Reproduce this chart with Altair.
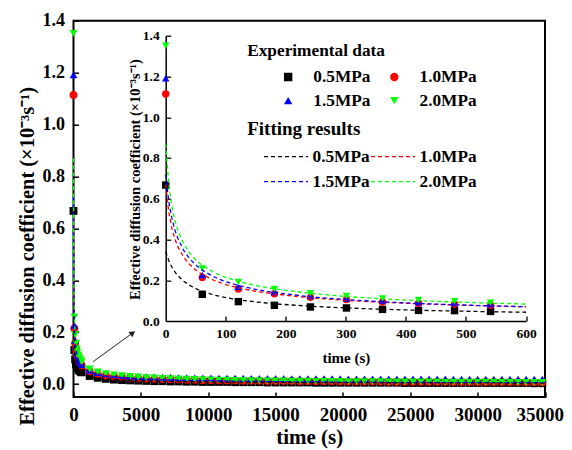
import altair as alt
import pandas as pd

FONT = "Liberation Serif"

series_names = ["0.5MPa", "1.0MPa", "1.5MPa", "2.0MPa"]
fit_names = ["0.5MPa fit", "1.0MPa fit", "1.5MPa fit", "2.0MPa fit"]
colors = ["#000000", "#ff0000", "#0000ff", "#00ff00"]
shapes = ["square", "circle", "triangle-up", "triangle-down"]

# experimental data, first 600 s (inset)
inset_times = [0, 61, 121, 181, 241, 301, 361, 421, 481, 541]
black_early = [0.667, 0.131, 0.095, 0.077, 0.069, 0.064, 0.057, 0.052, 0.051, 0.047]
red_early = [1.114, 0.214, 0.157, 0.134, 0.116, 0.105, 0.093, 0.087, 0.082, 0.077]
blue_early = [1.191, 0.226, 0.168, 0.142, 0.123, 0.110, 0.100, 0.092, 0.087, 0.082]
green_early = [1.351, 0.258, 0.191, 0.157, 0.136, 0.123, 0.111, 0.103, 0.097, 0.090]

# experimental data, long times (every 600 s)
main_times = list(range(601, 35000, 600))
black_late = [0.045, 0.031, 0.024, 0.020, 0.017, 0.015, 0.014, 0.013, 0.012, 0.011,
              0.011, 0.010, 0.010, 0.009, 0.009, 0.008, 0.008, 0.008, 0.008, 0.007,
              0.007, 0.007, 0.007, 0.006, 0.006, 0.006, 0.006, 0.006, 0.006, 0.005,
              0.005, 0.005, 0.005, 0.005, 0.005, 0.005, 0.005, 0.005, 0.005, 0.005,
              0.004, 0.004, 0.004, 0.004, 0.004, 0.004, 0.004, 0.004, 0.004, 0.004,
              0.004, 0.004, 0.004, 0.004, 0.004, 0.004, 0.003, 0.003]
red_late = [0.072, 0.049, 0.039, 0.033, 0.029, 0.026, 0.024, 0.022, 0.021, 0.020,
            0.019, 0.018, 0.017, 0.016, 0.016, 0.015, 0.015, 0.014, 0.014, 0.014,
            0.013, 0.013, 0.013, 0.012, 0.012, 0.012, 0.012, 0.011, 0.011, 0.011,
            0.011, 0.011, 0.010, 0.010, 0.010, 0.010, 0.010, 0.010, 0.009, 0.009,
            0.009, 0.009, 0.009, 0.009, 0.009, 0.009, 0.008, 0.008, 0.008, 0.008,
            0.008, 0.008, 0.008, 0.008, 0.008, 0.007, 0.007, 0.007]
blue_late = [0.075, 0.053, 0.044, 0.039, 0.035, 0.033, 0.031, 0.029, 0.028, 0.027,
             0.026, 0.026, 0.025, 0.025, 0.024, 0.024, 0.024, 0.023, 0.023, 0.023,
             0.023, 0.022, 0.022, 0.022, 0.022, 0.022, 0.021, 0.021, 0.021, 0.021,
             0.021, 0.021, 0.021, 0.020, 0.020, 0.020, 0.020, 0.020, 0.020, 0.020,
             0.020, 0.020, 0.020, 0.020, 0.020, 0.020, 0.019, 0.019, 0.019, 0.019,
             0.019, 0.019, 0.019, 0.019, 0.019, 0.019, 0.019, 0.019]
green_late = [0.085, 0.058, 0.047, 0.040, 0.035, 0.032, 0.029, 0.027, 0.025, 0.024,
              0.022, 0.021, 0.020, 0.019, 0.018, 0.017, 0.016, 0.015, 0.015, 0.014,
              0.014, 0.013, 0.013, 0.012, 0.012, 0.012, 0.011, 0.011, 0.011, 0.010,
              0.010, 0.010, 0.010, 0.009, 0.009, 0.009, 0.009, 0.009, 0.008, 0.008,
              0.008, 0.008, 0.008, 0.008, 0.008, 0.007, 0.007, 0.007, 0.007, 0.007,
              0.007, 0.007, 0.007, 0.007, 0.006, 0.006, 0.006, 0.006]

# fitting curves
fit_times = [0, 5, 10, 15, 20, 30, 40, 50, 60, 80, 100, 120, 150, 180, 240, 300, 360,
             420, 480, 540, 600, 900, 1200, 1800, 2400, 3600, 5000, 7500, 10000,
             15000, 20000, 25000, 30000, 35000]
black_fit = [0.340, 0.297, 0.266, 0.242, 0.223, 0.195, 0.175, 0.159, 0.147, 0.128, 0.115,
             0.105, 0.0934, 0.0847, 0.0724, 0.064, 0.0576, 0.0527, 0.0489, 0.0456, 0.043,
             0.0339, 0.0286, 0.0225, 0.019, 0.0149, 0.0122, 0.0096, 0.0081, 0.0063,
             0.0053, 0.0047, 0.0042, 0.0038]
red_fit = [0.670, 0.536, 0.458, 0.405, 0.366, 0.313, 0.277, 0.250, 0.230, 0.200, 0.179,
           0.163, 0.146, 0.133, 0.114, 0.101, 0.0919, 0.0846, 0.0787, 0.0740, 0.0699,
           0.0561, 0.0479, 0.0384, 0.0328, 0.0263, 0.0219, 0.0175, 0.0150, 0.0120,
           0.0102, 0.0091, 0.0082, 0.0075]
blue_fit = [0.720, 0.589, 0.507, 0.449, 0.407, 0.346, 0.305, 0.275, 0.251, 0.217, 0.193,
            0.175, 0.155, 0.140, 0.119, 0.105, 0.0943, 0.0862, 0.0797, 0.0744, 0.0700,
            0.0551, 0.0465, 0.0365, 0.0307, 0.0242, 0.0198, 0.0156, 0.0131, 0.0103,
            0.0086, 0.0076, 0.0068, 0.0062]
green_fit = [0.870, 0.674, 0.566, 0.497, 0.446, 0.378, 0.333, 0.300, 0.275, 0.239, 0.214,
             0.195, 0.174, 0.158, 0.136, 0.120, 0.109, 0.100, 0.0935, 0.0877, 0.083,
             0.0665, 0.0568, 0.0455, 0.0389, 0.0311, 0.026, 0.0208, 0.0178, 0.0142,
             0.0121, 0.0107, 0.0097, 0.0089]

# annotation arrow (from main curve cluster toward the inset)
arrow_t = [1450]
arrow_v = [0.086]
arrow_t2 = [4400]
arrow_v2 = [0.197]

main_x_ticks = [0, 5000, 10000, 15000, 20000, 25000, 30000, 35000]
main_y_ticks = [0.0, 0.2, 0.4, 0.6, 0.8, 1.0, 1.2, 1.4]
inset_x_ticks = [0, 100, 200, 300, 400, 500, 600]
inset_y_ticks = [0.0, 0.2, 0.4, 0.6, 0.8, 1.0, 1.2, 1.4]

# ---- tables
early = [black_early, red_early, blue_early, green_early]
late = [black_late, red_late, blue_late, green_late]
fits = [black_fit, red_fit, blue_fit, green_fit]
pts_rows = []
fit_rows = []
for i, s in enumerate(series_names):
    for t, v in zip(inset_times + main_times, early[i] + late[i]):
        pts_rows.append({"t": t, "v": v, "series": s})
    for t, v in zip(fit_times, fits[i]):
        fit_rows.append({"t": t, "v": v, "curve": fit_names[i]})
pts = pd.DataFrame(pts_rows)
fit = pd.DataFrame(fit_rows)
arrow = pd.DataFrame({"t": arrow_t, "v": arrow_v, "t2": arrow_t2, "v2": arrow_v2})

W, H = 471.5, 376.3
IX0, IX1 = 92.2, 452.5     # inset x range within plot area
IY0, IY1 = 300.3, 15.0     # inset y range within plot area

fill_scale = alt.Scale(domain=series_names, range=colors)
shape_scale = alt.Scale(domain=series_names, range=shapes)
stroke_scale = alt.Scale(domain=fit_names, range=colors)

common_leg = dict(orient="none", columns=2, padding=0, direction="horizontal",
                  title=None, clipHeight=20,
                  labelFont=FONT, labelFontWeight="bold", labelColor="black",
                  labelFontSize=17.3, labelLimit=300)
exp_legend = alt.Legend(legendX=206, legendY=46.3, symbolSize=70,
                        symbolStrokeWidth=0, labelOffset=16.5,
                        columnPadding=15.2, rowPadding=3.7, **common_leg)
fit_legend = alt.Legend(legendX=189.5, legendY=126, symbolType="stroke",
                        symbolSize=1936, symbolStrokeWidth=1.3, symbolDash=[4, 3],
                        labelOffset=3.5, columnPadding=0, rowPadding=5,
                        labelExpr="replace(datum.label, ' fit', '')", **common_leg)

fill_enc = alt.Fill("series:N", scale=fill_scale, legend=exp_legend)
shape_enc = alt.Shape("series:N", scale=shape_scale, legend=exp_legend)
stroke_enc = alt.Stroke("curve:N", scale=stroke_scale, legend=fit_legend)

# ---- main panel
mx_scale = alt.Scale(domain=[0, 35000], nice=False)
my_scale = alt.Scale(domain=[-0.05, 1.4], nice=False, zero=False)

last_label = "datum.value === 35000"
main_x_axis = alt.Axis(orient="bottom", values=main_x_ticks, format="d", ticks=False,
                       tickSize=0, domain=False, grid=False, labelPadding=8.5,
                       labelFontSize=19, labelFont=FONT, labelFontWeight="bold",
                       labelColor="black", labelFlush=False, labelOverlap=False,
                       labelAlign={"condition": {"test": last_label, "value": "right"},
                                   "value": "center"},
                       labelOffset={"condition": {"test": last_label, "value": 18.5},
                                    "value": 0},
                       title="time (s)", titleFont=FONT, titleFontSize=21,
                       titleFontWeight="bold", titleColor="black", titleY=40,
                       titleBaseline="middle")
main_y_axis = alt.Axis(orient="left", values=main_y_ticks, format=".1f", ticks=False,
                       tickSize=0, domain=False, grid=False, labelPadding=9,
                       labelFontSize=18, labelFont=FONT, labelFontWeight="bold",
                       labelColor="black", labelFlush=False, labelOverlap=False,
                       title="Effective diffusion coefficient (×10⁻³s⁻¹)",
                       titleFont=FONT, titleFontSize=20.4, titleFontWeight="bold",
                       titleColor="black", titleAngle=270, titleX=-46.5, titleY=404.3,
                       titleBaseline="middle", titleAlign="left")
main_x_tick_axis = alt.Axis(orient="bottom", values=main_x_ticks, offset=-5, tickSize=5,
                            ticks=True, tickColor="black", tickWidth=1.5, labels=False,
                            domain=False, grid=False, title=None)
main_y_tick_axis = alt.Axis(orient="left", values=main_y_ticks, offset=-5, tickSize=5,
                            ticks=True, tickColor="black", tickWidth=1.5, labels=False,
                            domain=False, grid=False, title=None)

main_points = alt.Chart(pts).mark_point(filled=True, size=62, opacity=1, strokeWidth=0).encode(
    x=alt.X("t:Q", scale=mx_scale, axis=main_x_axis),
    y=alt.Y("v:Q", scale=my_scale, axis=main_y_axis),
    fill=fill_enc, shape=shape_enc,
)
main_lines = alt.Chart(fit).mark_line(strokeDash=[4, 3], strokeWidth=1.3).encode(
    x=alt.X("t:Q", scale=mx_scale, axis=main_x_tick_axis),
    y=alt.Y("v:Q", scale=my_scale, axis=main_y_tick_axis),
    stroke=stroke_enc, detail="curve:N",
)
arrow_line = alt.Chart(arrow).mark_rule(color="#222222", strokeWidth=1).encode(
    x=alt.X("t:Q", scale=mx_scale, axis=None),
    y=alt.Y("v:Q", scale=my_scale, axis=None),
    x2="t2:Q", y2="v2:Q",
)
arrow_head = alt.Chart(arrow).mark_point(shape="triangle-right", filled=True, size=45,
                                         color="#222222", opacity=1, angle=324).encode(
    x=alt.X("t2:Q", scale=mx_scale, axis=None),
    y=alt.Y("v2:Q", scale=my_scale, axis=None),
)
main_group = alt.layer(main_points, main_lines, arrow_line, arrow_head).resolve_axis(
    x="independent", y="independent")

# ---- inset panel
ix_scale = alt.Scale(domain=[0, 600], range=[IX0, IX1], nice=False)
iy_scale = alt.Scale(domain=[0, 1.4], range=[IY0, IY1], nice=False)

inset_x_axis = alt.Axis(orient="bottom", offset=-(H - IY0), values=inset_x_ticks, format="d",
                        ticks=False, tickSize=0, domain=True, domainColor="black",
                        domainWidth=1.5, grid=False, labelPadding=5, labelFontSize=13.5,
                        labelFont=FONT, labelFontWeight="bold", labelColor="black",
                        labelFlush=False, labelOverlap=False, title="time (s)",
                        titleFont=FONT, titleFontSize=15, titleFontWeight="bold",
                        titleColor="black", titleY=36, titleBaseline="middle")
inset_y_axis = alt.Axis(orient="left", offset=-IX0, values=inset_y_ticks, format=".1f",
                        ticks=False, tickSize=0, domain=True, domainColor="black",
                        domainWidth=1.5, grid=False, labelPadding=6.5, labelFontSize=13.5,
                        labelFont=FONT, labelFontWeight="bold", labelColor="black",
                        labelFlush=False, labelOverlap=False,
                        title="Effective diffusion coefficient (×10⁻³s⁻¹)",
                        titleFont=FONT, titleFontSize=14.5, titleFontWeight="bold",
                        titleColor="black", titleAngle=270, titleX=-30,
                        titleY=(IY0 + IY1) / 2 + 0.8, titleBaseline="middle",
                        titleAlign="center")
# tick-only axes (inward ticks); their titles carry the two legend headings
inset_x_tick_axis = alt.Axis(orient="bottom", offset=-(H - IY0) - 5,
                             values=inset_x_ticks[1:], tickSize=5, ticks=True,
                             tickColor="black", tickWidth=1.3, labels=False, domain=False,
                             grid=False, title="Experimental data", titleFont=FONT,
                             titleFontSize=17.3, titleFontWeight="bold", titleColor="black",
                             titleAngle=0, titleAlign="left", titleBaseline="alphabetic",
                             titleX=173.2, titleY=34.3 - (IY0 - 5))
inset_y_tick_axis = alt.Axis(orient="left", offset=-IX0 - 5, values=inset_y_ticks[1:],
                             tickSize=5, ticks=True, tickColor="black", tickWidth=1.3,
                             labels=False, domain=False, grid=False,
                             title="Fitting results", titleFont=FONT, titleFontSize=19,
                             titleFontWeight="bold", titleColor="black", titleAngle=0,
                             titleAlign="left", titleBaseline="alphabetic",
                             titleX=173.2 - (IX0 + 5), titleY=113.3)

inset_points = alt.Chart(pts).transform_filter(alt.datum.t <= 600).mark_point(
    filled=True, size=55, opacity=1, strokeWidth=0).encode(
    x=alt.X("t:Q", scale=ix_scale, axis=inset_x_axis),
    y=alt.Y("v:Q", scale=iy_scale, axis=inset_y_axis),
    fill=fill_enc, shape=shape_enc,
)
inset_lines = alt.Chart(fit).transform_filter(alt.datum.t <= 600).mark_line(
    strokeDash=[4, 3], strokeWidth=1.3).encode(
    x=alt.X("t:Q", scale=ix_scale, axis=inset_x_tick_axis),
    y=alt.Y("v:Q", scale=iy_scale, axis=inset_y_tick_axis),
    stroke=stroke_enc, detail="curve:N",
)
inset_group = alt.layer(inset_points, inset_lines).resolve_axis(
    x="independent", y="independent")

chart = alt.layer(main_group, inset_group).resolve_scale(
    x="independent", y="independent"
).properties(
    width=W, height=H,
    autosize=alt.AutoSizeParams(type="none"),
    padding={"left": 65.5, "top": 12.7, "right": 19, "bottom": 53},
).configure_view(stroke="black", strokeWidth=2)

chart.save("out.html", embed_options={"renderer": "svg", "actions": False})
